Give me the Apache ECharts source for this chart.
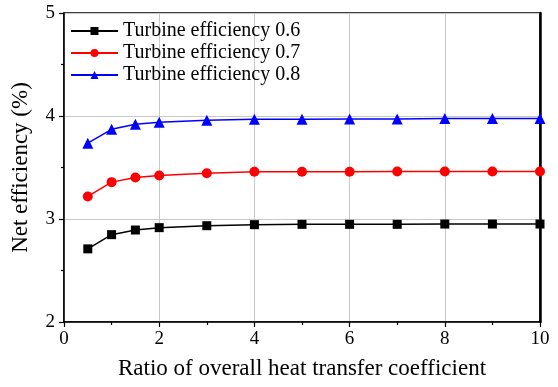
<!DOCTYPE html>
<html><head><meta charset="utf-8">
<script src="https://cdn.jsdelivr.net/npm/echarts@6/dist/echarts.min.js"></script>
<style>html,body{margin:0;padding:0;background:#fff}#c{width:558px;height:387px}</style>
</head><body><div id="c"></div>
<script>
const ratio = [0.5, 1, 1.5, 2, 3, 4, 5, 6, 7, 8, 9, 10];
const eff06 = [2.71, 2.848, 2.893, 2.916, 2.935, 2.945, 2.948, 2.948, 2.948, 2.951, 2.951, 2.951];
const eff07 = [3.219, 3.358, 3.403, 3.422, 3.445, 3.458, 3.458, 3.458, 3.461, 3.461, 3.461, 3.461];
const eff08 = [3.736, 3.871, 3.920, 3.940, 3.959, 3.968, 3.968, 3.971, 3.971, 3.975, 3.975, 3.975];
const names = ['Turbine efficiency 0.6', 'Turbine efficiency 0.7', 'Turbine efficiency 0.8'];

const font = 'Liberation Serif, Times New Roman, serif';
const pair = a => ratio.map((x, i) => [x, a[i]]);
function mk(name, data, color, symbol, size) {
  return { name, type: 'line', data: pair(data), symbol, symbolSize: size,
    lineStyle: { color, width: 1.5 }, itemStyle: { color }, z: 3 };
}
const chart = echarts.init(document.getElementById('c'));
chart.setOption({
  animation: false,
  grid: { left: 64, right: 18, top: 13, bottom: 65, show: true, borderColor: '#000', borderWidth: 1.5 },
  legend: {
    left: 65, top: 16, orient: 'vertical', itemGap: 2, itemWidth: 47, itemHeight: 10,
    textStyle: { fontFamily: font, fontSize: 20, color: '#000' },
    data: names
  },
  xAxis: {
    type: 'value', min: 0, max: 10, interval: 2,
    name: 'Ratio of overall heat transfer coefficient', nameLocation: 'middle', nameGap: 35,
    nameTextStyle: { fontFamily: font, fontSize: 23, color: '#000' },
    axisLine: { lineStyle: { color: '#000', width: 1.5 } },
    axisTick: { show: true, inside: false, length: 5, lineStyle: { color: '#000', width: 1.2 } },
    minorTick: { show: true, splitNumber: 2, length: 3, lineStyle: { color: '#000', width: 1.2 } },
    axisLabel: { fontFamily: font, fontSize: 19, color: '#000', margin: 8 },
    splitLine: { show: true, lineStyle: { color: '#c8c8c8', width: 1 } }
  },
  yAxis: [{
    type: 'value', min: 2, max: 5, interval: 1,
    name: 'Net efficiency (%)', nameLocation: 'middle', nameGap: 32,
    nameTextStyle: { fontFamily: font, fontSize: 23, color: '#000' },
    axisLine: { show: true, lineStyle: { color: '#000', width: 1.5 } },
    axisTick: { show: true, inside: false, length: 5, lineStyle: { color: '#000', width: 1.2 } },
    minorTick: { show: true, splitNumber: 2, length: 3, lineStyle: { color: '#000', width: 1.2 } },
    axisLabel: { fontFamily: font, fontSize: 19, color: '#000', margin: 9 },
    splitLine: { show: true, lineStyle: { color: '#c8c8c8', width: 1 } }
  }, {
    type: 'value', min: 2, max: 5, interval: 1, position: 'right',
    axisLine: { show: true, lineStyle: { color: '#000', width: 2.5 } },
    axisTick: { show: false }, axisLabel: { show: false }, splitLine: { show: false }
  }],
  series: [
    mk(names[0], eff06, '#000000', 'rect', 9),
    mk(names[1], eff07, '#ff0000', 'circle', 10),
    mk(names[2], eff08, '#0000ff', 'triangle', 11)
  ]
});
</script></body></html>
